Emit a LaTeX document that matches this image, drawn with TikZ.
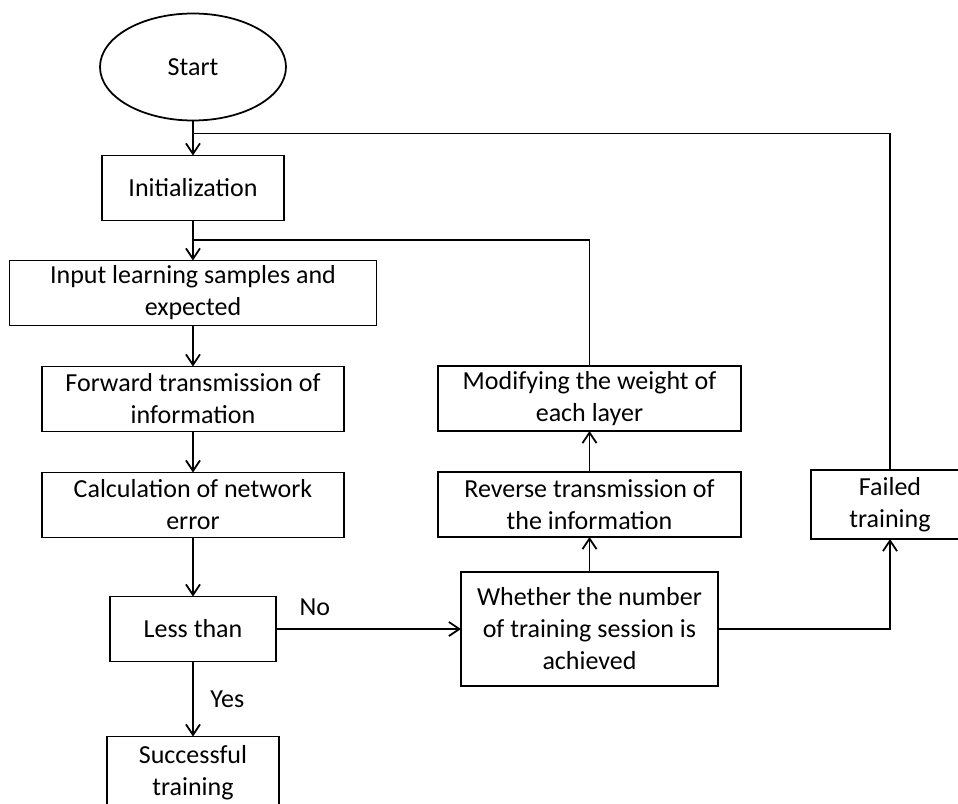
\documentclass[tikz,border=0pt]{standalone}
\usepackage{fontspec}
\setmainfont{Carlito}
\usetikzlibrary{shapes,arrows.meta,positioning,calc}

\begin{document}
\begin{tikzpicture}[node distance=0.82cm, auto, font=\fontsize{14.8}{18.2}\selectfont,
    block/.style={rectangle, draw, line width=1pt, align=center, minimum height=1.3cm, inner sep=2pt, outer sep=0pt},
    arrow/.style={-{Straight Barb[length=6pt,width=8pt]}, line width=1pt},
    line/.style={line width=1pt}]

    \useasboundingbox (-3.86,1.34) rectangle (15.3,-14.74);

    \node[ellipse, draw, line width=1pt, outer sep=0pt, minimum width=3.72cm, minimum height=2.14cm] (start) {Start};
    \node[block, below=0.7cm of start, minimum width=3.64cm] (init) {Initialization};
    \node[block, below=0.8cm of init, minimum width=7.34cm] (input) {Input learning samples and\\expected};
    \node[block, below=of input, minimum width=6.04cm] (forward) {Forward transmission of\\information};
    \node[block, below=of forward, minimum width=6.04cm] (calc) {Calculation of network\\error};
    \node[block, below=1.18cm of calc, minimum width=3.32cm] (less) {Less than};
    \node[block, below=1.5cm of less, minimum width=3.44cm, minimum height=1.44cm] (success) {Successful\\training};
    \node[block, right=3.7cm of less, minimum width=5.14cm, minimum height=2.28cm] (check) {Whether the number\\of training session is\\achieved};
    \node[block, above=0.7cm of check, minimum width=6.06cm] (reverse) {Reverse transmission of\\the information};
    \node[block, above=of reverse, minimum width=6.06cm] (modify) {Modifying the weight of\\each layer};
    \node[block, right=1.4cm of reverse, minimum width=3.16cm, minimum height=1.38cm] (failed) {Failed\\training};

    \coordinate (back1) at ($(start.south)!0.37!(init.north)$);
    \coordinate (back2) at ($(init.south)!0.48!(input.north)$);

    \draw[arrow] (start) -- (init);
    \draw[arrow] (init) -- (input);
    \draw[arrow] (input) -- (forward);
    \draw[arrow] (forward) -- (calc);
    \draw[arrow] (calc) -- (less);
    \draw[arrow] (less) -- node[pos=0.21, above=3.5pt] {No} (check);
    \draw[arrow] (less) -- node[right=6pt] {Yes} (success);
    \draw[arrow] (check) -- (reverse);
    \draw[arrow] (reverse) -- (modify);
    \draw[arrow] (check.east) -| (failed.south);
    \draw[line] (modify.north) |- (back2);
    \draw[line] (failed.north) |- (back1);
\end{tikzpicture}
\end{document}
